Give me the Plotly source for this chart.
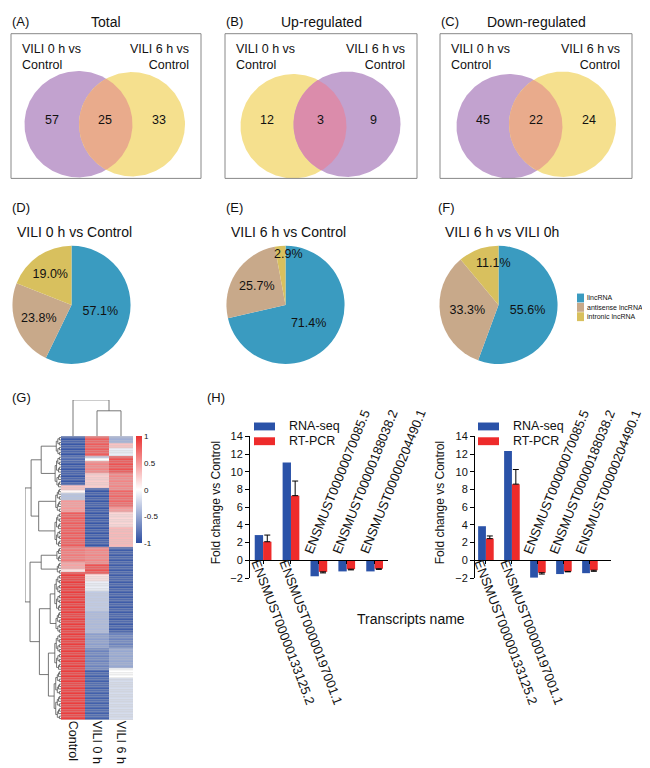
import numpy as np
import plotly.graph_objects as go

W, H = 650, 768
FONT = "Liberation Sans, Arial, sans-serif"

# ---------------- data ----------------
venn_panels = ["(A)", "(B)", "(C)"]
venn_titles = ["Total", "Up-regulated", "Down-regulated"]
venn_left_label = "VILI 0 h vs<br>Control"
venn_right_label = "VILI 6 h vs<br>Control"
venn_left_only = [57, 12, 45]
venn_overlap = [25, 3, 22]
venn_right_only = [33, 9, 24]

pie_panels = ["(D)", "(E)", "(F)"]
pie_titles = ["VILI 0 h vs Control", "VILI 6 h vs Control", "VILI 6 h vs VILI 0h"]
lnc_types = ["lincRNA", "antisense lncRNA", "intronic lncRNA"]
pie_0h_vs_ctrl = [57.1, 23.8, 19.0]
pie_6h_vs_ctrl = [71.4, 25.7, 2.9]
pie_6h_vs_0h = [55.6, 33.3, 11.1]

heat_samples = ["Control", "VILI 0 h", "VILI 6 h"]
# run-length (rows, z-score) read top to bottom
heat_control_runs = [(8, -0.95), (2, -0.85), (10, -0.95), (2, 0.3), (1, 0.05), (3, -0.35),
                     (5, 0.5), (14, 0.8), (6, 0.65), (3, 0.45), (1, 0.15), (60, 0.95)]
heat_vili0_runs = [(8, 0.8), (1, -0.3), (1, 0.0), (5, 0.6), (6, 0.25), (24, -0.95), (7, 0.6),
                   (4, 0.85), (3, 0.15), (4, -0.1), (8, -0.3), (9, -0.4), (6, -0.55), (9, -0.7),
                   (20, -0.9)]
heat_vili6_runs = [(3, -0.45), (2, 0.3), (3, -0.1), (7, 0.85), (7, 0.6), (7, 0.75), (2, 0.5),
                   (6, 0.2), (8, 0.35), (35, -0.92), (6, -0.7), (8, -0.5), (4, 0.0), (17, -0.2)]
# coarse row clustering: (height, left, right); leaves are row ranges
row_tree = (1.0,
            (0.83, (0.55, (0, 8), (8, 21)), (0.62, (21, 31), (31, 45))),
            (0.86, (0.55, (45, 51), (51, 56)),
                   (0.6, (0.3, (56, 71), (71, 80)), (0.35, (80, 95), (95, 115)))))
col_merge_heights = [0.7, 1.0]  # (VILI 0 h, VILI 6 h), then with Control

transcripts = ["ENSMUST00000133125.2", "ENSMUST00000197001.1", "ENSMUST00000070085.5",
               "ENSMUST00000188038.2", "ENSMUST00000204490.1"]
rnaseq_0h = [2.85, 11.05, -1.8, -1.25, -1.25]
rtpcr_0h = [2.1, 7.3, -1.3, -1.0, -0.95]
rtpcr_0h_err = [0.75, 1.65, 0.12, 0.08, 0.07]
rnaseq_6h = [3.85, 12.35, -1.95, -1.55, -1.45]
rtpcr_6h = [2.45, 8.6, -1.4, -1.25, -1.12]
rtpcr_6h_err = [0.3, 1.65, 0.15, 0.05, 0.12]

# ---------------- styles ----------------
PURPLE, YELLOW, SALMON, PINK = "#C2A2CF", "#F5E08E", "#E9AB8C", "#DB8CAB"
PIE_COLORS = ["#3A9BC0", "#C8A98A", "#D8C05E"]
BLUE, RED = "#2A52A8", "#EE2B2B"


def dx(a, b):
    return [a / W, b / W]


def dy(top, bottom):
    return [1 - bottom / H, 1 - top / H]


def PX(x):
    return x / W


def PY(y):
    return 1 - y / H


fig = go.Figure()
annotations = []
shapes = []


def txt(x, y, s, size=13, xanchor="center", yanchor="middle", angle=0, align="center", **kw):
    annotations.append(dict(x=PX(x), y=PY(y), xref="paper", yref="paper", text=s, showarrow=False,
                            font=dict(size=size, color="#111", family=FONT), xanchor=xanchor,
                            yanchor=yanchor, textangle=angle, align=align, **kw))


# ---------------- Venn diagrams (overlay axis in pixel units) ----------------
venn_boxes = [(3, 20, 193, 167), (217, 20, 409, 167), (432, 20, 624, 167)]
venn_circles = [((70.5, 112, 54), (124, 112, 53)),
                ((285.5, 114, 53), (339, 112, 53.5)),
                ((501.5, 114, 53), (554.5, 112, 53.5))]
venn_fill = [(PURPLE, YELLOW, SALMON), (YELLOW, PURPLE, PINK), (PURPLE, YELLOW, SALMON)]


def circ(c, t):
    return c[0] + c[2] * np.cos(t), c[1] + c[2] * np.sin(t)


def lens(cl, cr, n=360):
    t1 = np.linspace(-np.pi, np.pi, n, endpoint=False)
    xl, yl = circ(cl, t1)
    m1 = (xl - cr[0]) ** 2 + (yl - cr[1]) ** 2 <= cr[2] ** 2
    t2 = np.linspace(0, 2 * np.pi, n, endpoint=False)
    xr, yr = circ(cr, t2)
    m2 = (xr - cl[0]) ** 2 + (yr - cl[1]) ** 2 <= cl[2] ** 2
    return np.concatenate([xl[m1], xr[m2]]), np.concatenate([yl[m1], yr[m2]])


tt = np.linspace(0, 2 * np.pi, 241)
for i in range(3):
    cl, cr = venn_circles[i]
    fl, fr, fo = venn_fill[i]
    for c, col in ((cl, fl), (cr, fr)):
        x, y = circ(c, tt)
        fig.add_trace(go.Scatter(x=x, y=y, mode="lines", fill="toself", fillcolor=col,
                                 line=dict(width=0, color=col), xaxis="x", yaxis="y",
                                 hoverinfo="skip", showlegend=False))
    lx, ly = lens(cl, cr)
    fig.add_trace(go.Scatter(x=lx, y=ly, mode="lines", fill="toself", fillcolor=fo,
                             line=dict(width=0, color=fo), xaxis="x", yaxis="y",
                             hoverinfo="skip", showlegend=False))
    x0, y0, x1, y1 = venn_boxes[i]
    shapes.append(dict(type="rect", xref="paper", yref="paper", x0=PX(x0), x1=PX(x1),
                       y0=PY(y1), y1=PY(y0), line=dict(color="#888888", width=1)))
    txt(x0 - 1, 8, venn_panels[i], size=13, xanchor="left")
    txt((x0 + x1) / 2, 8, venn_titles[i], size=14)
    txt(x0 + 9, 26, venn_left_label, size=12.5, xanchor="left", yanchor="top", align="left")
    txt(x1 - 10, 26, venn_right_label, size=12.5, xanchor="right", yanchor="top", align="right")
    ny = 108
    txt(cl[0] - 0.5 * cl[2], ny, str(venn_left_only[i]), size=12.5)
    txt((cl[0] + cr[0]) / 2, ny, str(venn_overlap[i]), size=12.5)
    txt(cr[0] + 0.5 * cr[2], ny, str(venn_right_only[i]), size=12.5)

# ---------------- Pies ----------------
pie_values = [pie_0h_vs_ctrl, pie_6h_vs_ctrl, pie_6h_vs_0h]
pie_centers = [(63.5, 295.5), (277.5, 295.5), (490.5, 295.5)]
pie_panel_x = [2, 216, 428]
R = 60
small_label_pos = {(1, 2): (280, 244), (2, 2): (485, 253)}
for k, vals in enumerate(pie_values):
    cx, cy = pie_centers[k]
    fig.add_trace(go.Pie(values=vals, labels=lnc_types, sort=False, direction="clockwise",
                         rotation=0, domain=dict(x=dx(cx - R, cx + R), y=dy(cy - R, cy + R)),
                         marker=dict(colors=PIE_COLORS, line=dict(width=0)),
                         text=[f"{v:.1f}%" for v in vals], textinfo="text",
                         textposition=["inside" if (k, j) not in small_label_pos else "none"
                                       for j in range(3)],
                         insidetextorientation="horizontal",
                         textfont=dict(size=12.5, color="#111", family=FONT),
                         showlegend=False, hoverinfo="skip"))
    for j in range(3):
        if (k, j) in small_label_pos:
            px_, py_ = small_label_pos[(k, j)]
            txt(px_, py_, f"{vals[j]:.1f}%", size=12.5)
    txt(pie_panel_x[k], 197, pie_panels[k], size=13, xanchor="left")
    txt(cx + 3, 221, pie_titles[k], size=14)

# pie legend
for j, name in enumerate(lnc_types):
    yc = 288.5 + j * 9.5
    shapes.append(dict(type="rect", xref="paper", yref="paper", x0=PX(569), x1=PX(576),
                       y0=PY(yc + 4.5), y1=PY(yc - 4.5), fillcolor=PIE_COLORS[j],
                       line=dict(width=0)))
    txt(576.5, yc, name, size=7, xanchor="left")

# ---------------- Heatmap ----------------
def expand(runs):
    out = []
    for n, v in runs:
        out += [v] * n
    return out


Z = np.array([expand(heat_control_runs), expand(heat_vili0_runs), expand(heat_vili6_runs)]).T
nrows = Z.shape[0]
shapes.append(dict(type="rect", xref="x2 domain", yref="y2 domain", x0=0, x1=1, y0=0, y1=1,
                   fillcolor="#c4c4c4", line=dict(width=0), layer="below"))
fig.add_trace(go.Heatmap(z=Z, x=[0, 1, 2], y=list(range(nrows)), xaxis="x2", yaxis="y2",
                         colorscale=[[0, "#2D4EA2"], [0.5, "#FFFFFF"], [1, "#EA3333"]],
                         zmin=-1, zmax=1, ygap=0.5, hoverinfo="skip",
                         colorbar=dict(x=PX(128), xanchor="left", y=PY(429), yanchor="top",
                                       len=107, lenmode="pixels", thickness=6,
                                       tickvals=[-1, -0.5, 0, 0.5, 1],
                                       ticktext=["-1", "-0.5", "0", "0.5", "1"],
                                       tickfont=dict(size=8, color="#111", family=FONT),
                                       ticks="", outlinewidth=0, xpad=0, ypad=0)))

# row dendrogram
DX, DY = [], []


def link(p1, h1, p2, h2, h):
    DX.extend([h1, h, h, h2, None])
    DY.extend([p1, p1, p2, p2, None])


def comb(a, b):
    n = b - a
    if n == 1:
        return a, 0.0
    m = a + (n + 1) // 2
    p1, h1 = comb(a, m)
    p2, h2 = comb(m, b)
    h = 0.22 * np.log2(n) / 5
    link(p1, h1, p2, h2, h)
    return (p1 + p2) / 2, h


def node(t):
    if len(t) == 2:
        return comb(*t)
    h, l, r = t
    p1, h1 = node(l)
    p2, h2 = node(r)
    link(p1, h1, p2, h2, h)
    return (p1 + p2) / 2, h


node(row_tree)
fig.add_trace(go.Scatter(x=DX, y=DY, mode="lines", line=dict(color="#555555", width=0.8),
                         xaxis="x3", yaxis="y3", hoverinfo="skip", showlegend=False))
# column dendrogram
CX, CY = [], []
ha, hb = col_merge_heights
CX += [1, 1, 2, 2, None]
CY += [0, ha, ha, 0, None]
CX += [0, 0, 1.5, 1.5, None]
CY += [0, hb, hb, ha, None]
fig.add_trace(go.Scatter(x=CX, y=CY, mode="lines", line=dict(color="#555555", width=0.8),
                         xaxis="x4", yaxis="y4", hoverinfo="skip", showlegend=False))
txt(2, 390, "(G)", size=13, xanchor="left")

# ---------------- Bars ----------------
bar_sets = [("x5", "y5", rnaseq_0h, rtpcr_0h, rtpcr_0h_err),
            ("x6", "y6", rnaseq_6h, rtpcr_6h, rtpcr_6h_err)]
cats = list(range(len(transcripts)))
for xa, ya, seq, pcr, err in bar_sets:
    fig.add_trace(go.Bar(x=cats, y=seq, xaxis=xa, yaxis=ya, marker=dict(color=BLUE, line=dict(width=0)),
                         offsetgroup="a", showlegend=False, hoverinfo="skip"))
    fig.add_trace(go.Bar(x=cats, y=pcr, xaxis=xa, yaxis=ya, marker=dict(color=RED, line=dict(width=0)),
                         offsetgroup="b", showlegend=False, hoverinfo="skip",
                         error_y=dict(type="data", symmetric=False,
                                      array=[e if v > 0 else 0 for v, e in zip(pcr, err)],
                                      arrayminus=[e if v < 0 else 0 for v, e in zip(pcr, err)],
                                      color="black", thickness=1, width=3)))
    for i, name in enumerate(transcripts):
        if seq[i] > 0:
            annotations.append(dict(x=i, y=0, xref=xa, yref=ya, text=name, showarrow=False,
                                    textangle=69, xanchor="left", yanchor="top", xshift=-17,
                                    yshift=5, font=dict(size=13, color="#111", family=FONT)))
        else:
            annotations.append(dict(x=i, y=0, xref=xa, yref=ya, text=name, showarrow=False,
                                    textangle=-68, xanchor="left", yanchor="bottom", xshift=-20,
                                    yshift=2, font=dict(size=13, color="#111", family=FONT)))

for ax0, lx in ((208, 246), (432, 470)):
    txt(ax0, 497, "Fold change vs Control", size=12, angle=-90)
    for j, (nm, col) in enumerate((("RNA-seq", BLUE), ("RT-PCR", RED))):
        yc = 419 + j * 15
        shapes.append(dict(type="rect", xref="paper", yref="paper", x0=PX(lx), x1=PX(lx + 21),
                           y0=PY(yc + 4), y1=PY(yc - 4), fillcolor=col, line=dict(width=0)))
        txt(lx + 33, yc, nm, size=12.5, xanchor="left")
txt(403, 615, "Transcripts name", size=14)
txt(197, 390, "(H)", size=13, xanchor="left")

hidden = dict(visible=False, fixedrange=True)
bar_y = dict(range=[-2, 14], tickvals=list(range(-2, 15, 2)), ticks="outside", ticklen=4,
             showline=True, linecolor="black", linewidth=1, tickcolor="black", showgrid=False,
             zeroline=False, tickfont=dict(size=11, color="#111", family=FONT))
bar_x = dict(tickvals=cats, showticklabels=False, ticks="outside", ticklen=3,
             showline=True, linecolor="black", linewidth=1, tickcolor="black", showgrid=False,
             zeroline=False, anchor="free", position=PY(555))

fig.update_layout(
    width=W, height=H, margin=dict(l=0, r=0, t=0, b=0),
    paper_bgcolor="white", plot_bgcolor="rgba(0,0,0,0)",
    font=dict(family=FONT, color="#111"),
    barmode="group", bargap=0.4, bargroupgap=0,
    xaxis=dict(domain=[0, 1], range=[0, W], anchor="y", **hidden),
    yaxis=dict(domain=[0, 1], range=[H, 0], anchor="x", **hidden),
    xaxis2=dict(domain=dx(53, 125), anchor="y2", range=[-0.5, 2.5], tickvals=[0, 1, 2],
                ticktext=heat_samples, tickangle=90, ticks="", showline=False, showgrid=False,
                zeroline=False, tickfont=dict(size=12.5, color="#111", family=FONT)),
    yaxis2=dict(domain=dy(429, 717), anchor="x2", range=[nrows - 0.5, -0.5], **hidden),
    xaxis3=dict(domain=dx(17, 53), anchor="y3", range=[1.0, 0], **hidden),
    yaxis3=dict(domain=dy(429, 717), anchor="x3", range=[nrows - 0.5, -0.5], **hidden),
    xaxis4=dict(domain=dx(53, 125), anchor="y4", range=[-0.5, 2.5], **hidden),
    yaxis4=dict(domain=dy(392, 429), anchor="x4", range=[0, 1], **hidden),
    xaxis5=dict(domain=dx(242, 380), range=[-0.47, 4.48], **bar_x),
    yaxis5=dict(domain=dy(429, 573), anchor="x5", **bar_y),
    xaxis6=dict(domain=dx(467, 603), range=[-0.42, 4.81], **bar_x),
    yaxis6=dict(domain=dy(429, 573), anchor="x6", **bar_y),
    annotations=annotations, shapes=shapes,
)

fig.write_html("out.html")
